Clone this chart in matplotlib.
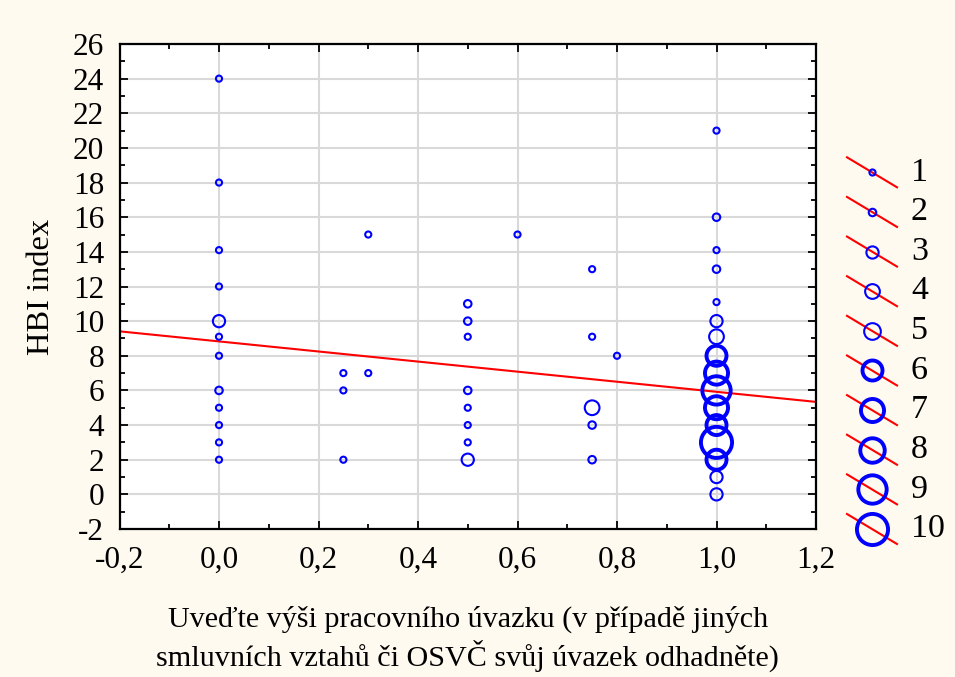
import matplotlib
matplotlib.use("Agg")
import matplotlib.pyplot as plt
from matplotlib.ticker import MultipleLocator, FuncFormatter

plt.rcParams['font.family'] = ['Liberation Serif', 'DejaVu Serif']

# ---- data ----
x_vals = ([0.0] * 12 + [0.25] * 3 + [0.3] * 2 + [0.5] * 8 + [0.6] +
          [0.75] * 5 + [0.8] + [1.0] * 16)
y_vals = ([24, 18, 14.1, 12, 10, 9.1, 8, 6, 5, 4, 3, 2] +
          [7, 6, 2] +
          [15, 7] +
          [11, 10, 9.1, 6, 5, 4, 3, 2] +
          [15] +
          [13, 9.1, 5, 4, 2] +
          [8] +
          [21, 16, 14.1, 13, 11.1, 10, 9.1, 8, 7, 6, 5, 4, 3, 2, 1, 0])
counts = ([1, 1, 1, 1, 3, 1, 1, 2, 1, 1, 1, 1] +
          [1, 1, 1] +
          [1, 1] +
          [2, 2, 1, 2, 1, 1, 1, 3] +
          [1] +
          [1, 1, 4, 2, 2] +
          [1] +
          [1, 2, 1, 2, 1, 3, 4, 6, 7, 9, 7, 6, 10, 6, 3, 3])
fit_intercept = 8.83
fit_slope = -2.91
legend_levels = [1, 2, 3, 4, 5, 6, 7, 8, 9, 10]
x_label = "Uveďte výši pracovního úvazku (v případě jiných\nsmluvních vztahů či OSVČ svůj úvazek odhadněte)"
y_label = "HBI index"

# ---- style mapping: count -> marker size (pt) / edge width (pt) ----
msize = {1: 4.4, 2: 5.4, 3: 8.8, 4: 10.6, 5: 12.0, 6: 14.4, 7: 16.6, 8: 17.6, 9: 20.4, 10: 22.4}
mlw = {k: (1.5 if k <= 5 else 2.8) for k in msize}

BG = '#FEFAF0'
fig = plt.figure(figsize=(9.55, 6.77), dpi=100, facecolor=BG)
W, H = 955, 677
l, r, t, b = 119.5, 816, 44, 529
ax = fig.add_axes([l / W, 1 - b / H, (r - l) / W, (b - t) / H])
ax.set_facecolor('white')

ax.set_xlim(-0.2, 1.2)
ax.set_ylim(-2, 26)
ax.xaxis.set_major_locator(MultipleLocator(0.2))
ax.xaxis.set_minor_locator(MultipleLocator(0.1))
ax.yaxis.set_major_locator(MultipleLocator(2))
ax.yaxis.set_minor_locator(MultipleLocator(1))
ax.xaxis.set_major_formatter(FuncFormatter(lambda v, p: f"{v:.1f}".replace('.', ',')))
ax.yaxis.set_major_formatter(FuncFormatter(lambda v, p: f"{int(round(v))}"))
ax.grid(True, which='major', color='#d9d9d9', lw=1.5, zorder=0)
ax.set_axisbelow(True)
ax.tick_params(which='both', direction='in', top=True, right=True, width=1.3, color='black')
ax.tick_params(which='major', length=6, labelsize=22.5)
ax.tick_params(which='minor', length=3.5)
ax.tick_params(axis='x', which='major', pad=12)
ax.tick_params(axis='y', which='major', pad=11)
for s in ax.spines.values():
    s.set_linewidth(1.6)
    s.set_color('black')

# regression line
xs = [-0.2, 1.2]
ax.plot(xs, [fit_intercept + fit_slope * v for v in xs], color='#FF0000', lw=1.5, zorder=2)

# points
ax.scatter(x_vals, y_vals, s=[msize[c] ** 2 for c in counts], facecolors='none',
           edgecolors='#0000FF', linewidths=[mlw[c] for c in counts], zorder=3, clip_on=False)

ax.set_xlabel(x_label, fontsize=21.7, linespacing=1.27, labelpad=22)
ax.set_ylabel(y_label, fontsize=23.4)
ax.yaxis.set_label_coords((56 - l) / (r - l), 0.5)

# ---- legend (own axes, pixel-ish units) ----
lax = fig.add_axes([830 / W, 1 - 550 / H, 125 / W, 400 / H])
lax.set_axis_off()
lax.set_xlim(830, 955)
per_px = 9 / 356.7
lax.set_ylim(10 + 21 * per_px, 1 - 22.3 * per_px)
for k in legend_levels:
    lax.plot([847, 897], [k - 15 * per_px, k + 15 * per_px], color='#FF0000', lw=1.5)
    lax.plot([872], [k], marker='o', ms=msize[k], mfc='none', mec='#0000FF', mew=mlw[k])
    lax.text(911, k, str(k), fontsize=24.5, va='center', ha='left')

fig.savefig('out.png', dpi=100, facecolor=BG)
